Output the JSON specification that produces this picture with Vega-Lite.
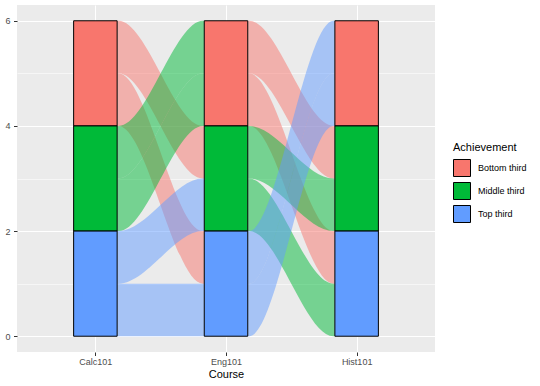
{
  "$schema": "https://vega.github.io/schema/vega-lite/v6.json",
  "width": 418,
  "height": 347,
  "autosize": "none",
  "padding": {"left": 17, "top": 5, "right": 105, "bottom": 34},
  "background": "white",
  "config": {
    "font": "Liberation Sans",
    "view": {"fill": "#EBEBEB", "stroke": null},
    "axis": {
      "domain": false,
      "gridColor": "white",
      "tickColor": "#333333",
      "tickSize": 3.5,
      "tickWidth": 1,
      "labelColor": "#4D4D4D",
      "labelFontSize": 9,
      "titleColor": "black",
      "titleFontSize": 11,
      "titleFontWeight": "normal"
    }
  },
  "datasets": {
    "flows": [
      {"flow": "f1", "Achievement": "Bottom third", "x": 1.1667, "lo": 5, "hi": 6},
      {"flow": "f1", "Achievement": "Bottom third", "x": 1.1767, "lo": 5, "hi": 6},
      {"flow": "f1", "Achievement": "Bottom third", "x": 1.8233, "lo": 3, "hi": 4},
      {"flow": "f1", "Achievement": "Bottom third", "x": 1.8333, "lo": 3, "hi": 4},
      {"flow": "f2", "Achievement": "Bottom third", "x": 1.1667, "lo": 4, "hi": 5},
      {"flow": "f2", "Achievement": "Bottom third", "x": 1.1767, "lo": 4, "hi": 5},
      {"flow": "f2", "Achievement": "Bottom third", "x": 1.8233, "lo": 1, "hi": 2},
      {"flow": "f2", "Achievement": "Bottom third", "x": 1.8333, "lo": 1, "hi": 2},
      {"flow": "f3", "Achievement": "Middle third", "x": 1.1667, "lo": 3, "hi": 4},
      {"flow": "f3", "Achievement": "Middle third", "x": 1.1767, "lo": 3, "hi": 4},
      {"flow": "f3", "Achievement": "Middle third", "x": 1.8233, "lo": 5, "hi": 6},
      {"flow": "f3", "Achievement": "Middle third", "x": 1.8333, "lo": 5, "hi": 6},
      {"flow": "f4", "Achievement": "Middle third", "x": 1.1667, "lo": 2, "hi": 3},
      {"flow": "f4", "Achievement": "Middle third", "x": 1.1767, "lo": 2, "hi": 3},
      {"flow": "f4", "Achievement": "Middle third", "x": 1.8233, "lo": 4, "hi": 5},
      {"flow": "f4", "Achievement": "Middle third", "x": 1.8333, "lo": 4, "hi": 5},
      {"flow": "f5", "Achievement": "Top third", "x": 1.1667, "lo": 1, "hi": 2},
      {"flow": "f5", "Achievement": "Top third", "x": 1.1767, "lo": 1, "hi": 2},
      {"flow": "f5", "Achievement": "Top third", "x": 1.8233, "lo": 2, "hi": 3},
      {"flow": "f5", "Achievement": "Top third", "x": 1.8333, "lo": 2, "hi": 3},
      {"flow": "f6", "Achievement": "Top third", "x": 1.1667, "lo": 0, "hi": 1},
      {"flow": "f6", "Achievement": "Top third", "x": 1.1767, "lo": 0, "hi": 1},
      {"flow": "f6", "Achievement": "Top third", "x": 1.8233, "lo": 0, "hi": 1},
      {"flow": "f6", "Achievement": "Top third", "x": 1.8333, "lo": 0, "hi": 1},
      {"flow": "g1", "Achievement": "Bottom third", "x": 2.1667, "lo": 5, "hi": 6},
      {"flow": "g1", "Achievement": "Bottom third", "x": 2.1767, "lo": 5, "hi": 6},
      {"flow": "g1", "Achievement": "Bottom third", "x": 2.8233, "lo": 3, "hi": 4},
      {"flow": "g1", "Achievement": "Bottom third", "x": 2.8333, "lo": 3, "hi": 4},
      {"flow": "g2", "Achievement": "Bottom third", "x": 2.1667, "lo": 4, "hi": 5},
      {"flow": "g2", "Achievement": "Bottom third", "x": 2.1767, "lo": 4, "hi": 5},
      {"flow": "g2", "Achievement": "Bottom third", "x": 2.8233, "lo": 1, "hi": 2},
      {"flow": "g2", "Achievement": "Bottom third", "x": 2.8333, "lo": 1, "hi": 2},
      {"flow": "g3", "Achievement": "Middle third", "x": 2.1667, "lo": 3, "hi": 4},
      {"flow": "g3", "Achievement": "Middle third", "x": 2.1767, "lo": 3, "hi": 4},
      {"flow": "g3", "Achievement": "Middle third", "x": 2.8233, "lo": 2, "hi": 3},
      {"flow": "g3", "Achievement": "Middle third", "x": 2.8333, "lo": 2, "hi": 3},
      {"flow": "g4", "Achievement": "Middle third", "x": 2.1667, "lo": 2, "hi": 3},
      {"flow": "g4", "Achievement": "Middle third", "x": 2.1767, "lo": 2, "hi": 3},
      {"flow": "g4", "Achievement": "Middle third", "x": 2.8233, "lo": 0, "hi": 1},
      {"flow": "g4", "Achievement": "Middle third", "x": 2.8333, "lo": 0, "hi": 1},
      {"flow": "g5", "Achievement": "Top third", "x": 2.1667, "lo": 1, "hi": 2},
      {"flow": "g5", "Achievement": "Top third", "x": 2.1767, "lo": 1, "hi": 2},
      {"flow": "g5", "Achievement": "Top third", "x": 2.8233, "lo": 5, "hi": 6},
      {"flow": "g5", "Achievement": "Top third", "x": 2.8333, "lo": 5, "hi": 6},
      {"flow": "g6", "Achievement": "Top third", "x": 2.1667, "lo": 0, "hi": 1},
      {"flow": "g6", "Achievement": "Top third", "x": 2.1767, "lo": 0, "hi": 1},
      {"flow": "g6", "Achievement": "Top third", "x": 2.8233, "lo": 4, "hi": 5},
      {"flow": "g6", "Achievement": "Top third", "x": 2.8333, "lo": 4, "hi": 5}
    ],
    "strata": [
      {"Course": "Calc101", "pos": 1, "Achievement": "Bottom third", "lo": 4, "hi": 6},
      {"Course": "Calc101", "pos": 1, "Achievement": "Middle third", "lo": 2, "hi": 4},
      {"Course": "Calc101", "pos": 1, "Achievement": "Top third", "lo": 0, "hi": 2},
      {"Course": "Eng101", "pos": 2, "Achievement": "Bottom third", "lo": 4, "hi": 6},
      {"Course": "Eng101", "pos": 2, "Achievement": "Middle third", "lo": 2, "hi": 4},
      {"Course": "Eng101", "pos": 2, "Achievement": "Top third", "lo": 0, "hi": 2},
      {"Course": "Hist101", "pos": 3, "Achievement": "Bottom third", "lo": 4, "hi": 6},
      {"Course": "Hist101", "pos": 3, "Achievement": "Middle third", "lo": 2, "hi": 4},
      {"Course": "Hist101", "pos": 3, "Achievement": "Top third", "lo": 0, "hi": 2}
    ]
  },
  "layer": [
    {
      "data": {"name": "flows"},
      "mark": {"type": "area", "interpolate": "monotone", "opacity": 0.5},
      "encoding": {
        "x": {
          "field": "x", "type": "quantitative",
          "scale": {"domain": [0.4, 3.6], "nice": false, "zero": false, "padding": 0},
          "axis": {
            "title": "Course",
            "values": [1, 2, 3],
            "labelExpr": "datum.value == 1 ? 'Calc101' : datum.value == 2 ? 'Eng101' : 'Hist101'",
            "gridWidth": 1.07,
            "labelPadding": 1.5,
            "titlePadding": 2
          }
        },
        "y": {
          "field": "lo", "type": "quantitative",
          "scale": {"domain": [-0.3, 6.3], "nice": false, "zero": false, "padding": 0},
          "axis": {
            "title": null,
            "values": [0, 1, 2, 3, 4, 5, 6],
            "labelPadding": 3.5,
            "labelExpr": "datum.value % 2 == 0 ? datum.label : ''",
            "gridWidth": {"condition": {"test": "datum.value % 2 == 1", "value": 0.55}, "value": 1.07},
            "tickColor": {"condition": {"test": "datum.value % 2 == 1", "value": "transparent"}, "value": "#333333"}
          }
        },
        "y2": {"field": "hi"},
        "detail": {"field": "flow"},
        "color": {
          "field": "Achievement", "type": "nominal",
          "scale": {"domain": ["Bottom third", "Middle third", "Top third"], "range": ["#F8766D", "#00BA38", "#619CFF"]},
          "legend": {
            "title": "Achievement",
            "orient": "none",
            "legendX": 436,
            "legendY": 137,
            "symbolType": "square",
            "symbolSize": 289,
            "symbolStrokeColor": "black",
            "symbolStrokeWidth": 1,
            "symbolOpacity": 1,
            "titleFontSize": 11,
            "titleFontWeight": "normal",
            "titleColor": "black",
            "titlePadding": 6,
            "labelFontSize": 9,
            "labelColor": "black",
            "labelOffset": 7,
            "rowPadding": 1
          }
        }
      }
    },
    {
      "data": {"name": "strata"},
      "mark": {"type": "bar", "width": 43.5, "stroke": "black", "strokeWidth": 1, "opacity": 1},
      "encoding": {
        "x": {"field": "pos", "type": "quantitative"},
        "y": {"field": "lo", "type": "quantitative"},
        "y2": {"field": "hi"},
        "color": {"field": "Achievement", "type": "nominal"}
      }
    }
  ]
}
